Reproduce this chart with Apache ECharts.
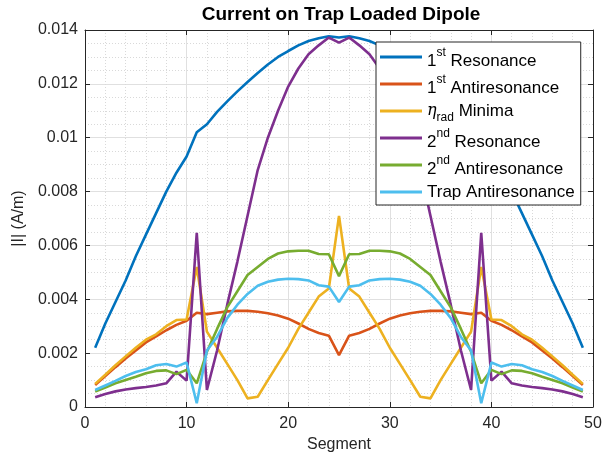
<!DOCTYPE html>
<html>
<head>
<meta charset="utf-8">
<script src="https://cdn.jsdelivr.net/npm/echarts@6/dist/echarts.min.js"></script>
<style>
  html, body { margin: 0; padding: 0; background: #ffffff; }
  #chart { width: 614px; height: 461px; }
</style>
</head>
<body>
<div id="chart"></div>
<script>
// Segment index along the dipole
const segments = [1,2,3,4,5,6,7,8,9,10,11,12,13,14,15,16,17,18,19,20,21,22,23,24,25,
                  26,27,28,29,30,31,32,33,34,35,36,37,38,39,40,41,42,43,44,45,46,47,48,49];

// Current magnitude |I| (A/m) per segment
const res1 = [0.0022,0.0031,0.0039,0.0047,0.0056,0.0064,0.0072,0.0080,0.0087,0.0093,0.0102,0.0105,0.01096,0.01135,0.01172,0.01207,0.0124,0.01272,0.0130,0.01322,0.01343,0.01359,0.01369,0.01377,0.01372,
              0.01377,0.01369,0.01359,0.01343,0.01322,0.0130,0.01272,0.0124,0.01207,0.01172,0.01135,0.01096,0.0105,0.0102,0.0093,0.0087,0.0080,0.0072,0.0064,0.0056,0.0047,0.0039,0.0031,0.0022];
const anti1 = [0.00082,0.00115,0.00148,0.0018,0.0021,0.0024,0.00262,0.00285,0.00305,0.0032,0.0035,0.00345,0.0035,0.00355,0.00357,0.00357,0.00354,0.00348,0.0034,0.00328,0.0031,0.0029,0.00275,0.00265,0.00193,
               0.00265,0.00275,0.0029,0.0031,0.00328,0.0034,0.00348,0.00354,0.00357,0.00357,0.00355,0.0035,0.00345,0.0035,0.0032,0.00305,0.00285,0.00262,0.0024,0.0021,0.0018,0.00148,0.00115,0.00082];
const etaMin = [0.00086,0.0012,0.00155,0.00188,0.0022,0.0025,0.0027,0.003,0.00323,0.00325,0.0052,0.0028,0.0022,0.0016,0.001,0.00032,0.00038,0.001,0.0016,0.0022,0.0029,0.0035,0.0041,0.0044,0.0071,
                0.0044,0.0041,0.0035,0.0029,0.0022,0.0016,0.001,0.00038,0.00032,0.001,0.0016,0.0022,0.0028,0.0052,0.00325,0.00323,0.003,0.0027,0.0025,0.0022,0.00188,0.00155,0.0012,0.00086];
const res2 = [0.00036,0.00048,0.00058,0.00065,0.0007,0.00074,0.0008,0.00088,0.00131,0.00098,0.00647,0.00063,0.0021,0.0038,0.0054,0.0071,0.0088,0.0100,0.0110,0.0119,0.01257,0.0131,0.01343,0.01372,0.01353,
              0.01372,0.01343,0.0131,0.01257,0.0119,0.0110,0.0100,0.0088,0.0071,0.0054,0.0038,0.0021,0.00063,0.00647,0.00098,0.00131,0.00088,0.0008,0.00074,0.0007,0.00065,0.00058,0.00048,0.00036];
const anti2 = [0.00057,0.00072,0.00088,0.001,0.00112,0.00125,0.00134,0.00136,0.00122,0.00138,0.00088,0.00205,0.0029,0.0037,0.0043,0.0049,0.0052,0.0055,0.0057,0.00578,0.0058,0.0058,0.00568,0.00567,0.00486,
               0.00567,0.00568,0.0058,0.0058,0.00578,0.0057,0.0055,0.0052,0.0049,0.0043,0.0037,0.0029,0.00205,0.00088,0.00138,0.00122,0.00136,0.00134,0.00125,0.00112,0.001,0.00088,0.00072,0.00057];
const trapAnti = [0.00063,0.0008,0.00097,0.00115,0.0013,0.0014,0.00155,0.0016,0.0015,0.00165,0.00014,0.0021,0.0026,0.0033,0.0038,0.0042,0.0045,0.00465,0.00473,0.00476,0.00475,0.0047,0.00452,0.00447,0.0039,
                  0.00447,0.00452,0.0047,0.00475,0.00476,0.00473,0.00465,0.0045,0.0042,0.0038,0.0033,0.0026,0.0021,0.00014,0.00165,0.0015,0.0016,0.00155,0.0014,0.0013,0.00115,0.00097,0.0008,0.00063];

const seriesNames = ['1st Resonance', '1st Antiresonance', 'eta_rad Minima', '2nd Resonance', '2nd Antiresonance', 'Trap Antiresonance'];
const seriesValues = [res1, anti1, etaMin, res2, anti2, trapAnti];
const seriesColors = ['#0072BD', '#D95319', '#EDB120', '#7E2F8E', '#77AC30', '#4DBEEE'];

// Legend labels with super/subscripts as rich text
const legendLabels = {
  '1st Resonance': '{mb|1}{sup|st}{mb| Resonance}',
  '1st Antiresonance': '{mb|1}{sup|st}{mb| Antiresonance}',
  'eta_rad Minima': '{eta|η}{sub|rad}{m| Minima}',
  '2nd Resonance': '{mb|2}{sup|nd}{mb| Resonance}',
  '2nd Antiresonance': '{mb|2}{sup|nd}{mb| Antiresonance}',
  'Trap Antiresonance': '{m|Trap Antiresonance}'
};

const FONT = 'Liberation Sans, Arial, Helvetica, sans-serif';
const AXIS_COLOR = '#262626';
const ROW_H = 26;

function pairs(values) {
  return segments.map((s, i) => [s, values[i]]);
}

const gridLine = { show: true, lineStyle: { color: '#e0e0e0', width: 1, type: 'solid' } };
const minorGridLine = { show: true, lineStyle: { color: '#d9d9d9', width: 1, type: [1, 2] } };

const chart = echarts.init(document.getElementById('chart'), null, { renderer: 'canvas' });
chart.setOption({
  animation: false,
  backgroundColor: '#ffffff',
  textStyle: { fontFamily: FONT },
  title: {
    text: 'Current on Trap Loaded Dipole',
    left: 336,
    top: 0,
    textAlign: 'center',
    textStyle: { fontFamily: FONT, fontSize: 19, fontWeight: 'bold', color: '#000000' }
  },
  grid: { left: 85, right: 21, top: 30, bottom: 54, containLabel: false },
  xAxis: [
    {
      type: 'value', position: 'bottom', min: 0, max: 50, interval: 10,
      name: 'Segment', nameLocation: 'middle', nameGap: 28,
      nameTextStyle: { fontFamily: FONT, fontSize: 16, color: AXIS_COLOR },
      axisLine: { show: true, lineStyle: { color: AXIS_COLOR, width: 1 } },
      axisTick: { show: true, inside: true, length: 5, lineStyle: { color: AXIS_COLOR } },
      axisLabel: { fontFamily: FONT, fontSize: 16, color: AXIS_COLOR, margin: 9 },
      splitLine: gridLine,
      minorTick: { show: false, splitNumber: 5 },
      minorSplitLine: minorGridLine
    },
    {
      type: 'value', position: 'top', min: 0, max: 50, interval: 10,
      axisLine: { show: true, onZero: false, lineStyle: { color: AXIS_COLOR, width: 1 } },
      axisTick: { show: true, inside: true, length: 5, lineStyle: { color: AXIS_COLOR } },
      axisLabel: { show: false },
      splitLine: { show: false }
    }
  ],
  yAxis: [
    {
      type: 'value', position: 'left', min: 0, max: 0.014, interval: 0.002,
      name: '|I| (A/m)', nameLocation: 'middle', nameGap: 57, nameRotate: 90,
      nameTextStyle: { fontFamily: FONT, fontSize: 16, color: AXIS_COLOR },
      axisLine: { show: true, lineStyle: { color: AXIS_COLOR, width: 1 } },
      axisTick: { show: true, inside: true, length: 5, lineStyle: { color: AXIS_COLOR } },
      axisLabel: { fontFamily: FONT, fontSize: 16, color: AXIS_COLOR, margin: 7 },
      splitLine: gridLine,
      minorTick: { show: false, splitNumber: 4 },
      minorSplitLine: minorGridLine
    },
    {
      type: 'value', position: 'right', min: 0, max: 0.014, interval: 0.002,
      axisLine: { show: true, onZero: false, lineStyle: { color: AXIS_COLOR, width: 1 } },
      axisTick: { show: true, inside: true, length: 5, lineStyle: { color: AXIS_COLOR } },
      axisLabel: { show: false },
      splitLine: { show: false }
    }
  ],
  legend: {
    data: seriesNames,
    orient: 'vertical',
    left: 376,
    top: 42,
    padding: [2, 6, 0, 4],
    itemGap: 1,
    itemWidth: 42,
    itemHeight: 3,
    icon: 'rect',
    backgroundColor: '#ffffff',
    borderColor: AXIS_COLOR,
    borderWidth: 1,
    formatter: name => legendLabels[name],
    textStyle: {
      fontFamily: FONT, fontSize: 17, color: '#000000', lineHeight: ROW_H,
      rich: {
        m:   { fontFamily: FONT, fontSize: 17, color: '#000000', lineHeight: ROW_H },
        mb:  { fontFamily: FONT, fontSize: 17, color: '#000000', lineHeight: ROW_H, verticalAlign: 'bottom' },
        sup: { fontFamily: FONT, fontSize: 12, color: '#000000', lineHeight: ROW_H, height: 17, verticalAlign: 'top' },
        sub: { fontFamily: FONT, fontSize: 12, color: '#000000', lineHeight: ROW_H, verticalAlign: 'bottom' },
        eta: { fontFamily: 'DejaVu Serif, serif', fontSize: 16, fontStyle: 'italic', color: '#000000', lineHeight: ROW_H }
      }
    }
  },
  series: seriesNames.map((name, k) => ({
    name: name,
    type: 'line',
    xAxisIndex: 0,
    yAxisIndex: 0,
    data: pairs(seriesValues[k]),
    symbol: 'none',
    showSymbol: false,
    color: seriesColors[k],
    lineStyle: { color: seriesColors[k], width: 2.6 },
    emphasis: { disabled: true }
  }))
});
</script>
</body>
</html>
